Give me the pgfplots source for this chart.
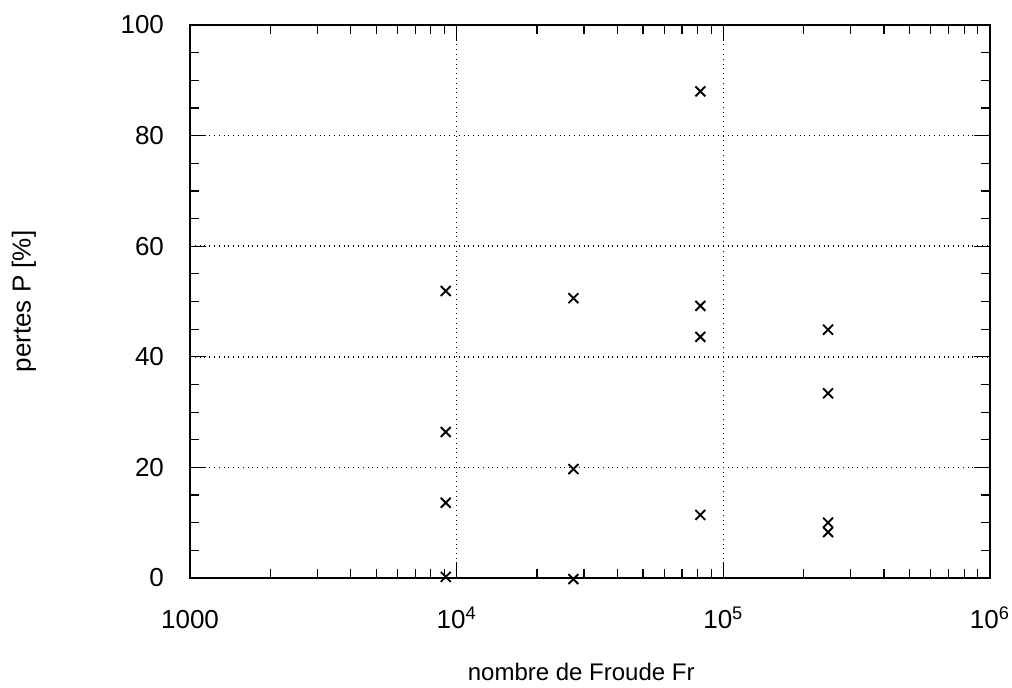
\documentclass[border=0pt]{standalone}
\usepackage{fontspec}
\setmainfont{Liberation Sans}
\usepackage{pgfplots}
\pgfplotsset{compat=1.18}
\pgfplotstableread{
x y
9100 51.9
9100 26.4
9100 13.6
9100 0.2
27400 50.6
27400 19.7
27400 -0.2
82000 88.0
82000 49.2
82000 43.6
82000 11.4
247000 44.9
247000 33.4
247000 10.0
247000 8.3
}\datatable
\begin{document}
\begin{tikzpicture}
\path[use as bounding box] (0,0) rectangle (506pt,343.5pt);
\begin{axis}[
  at={(95pt,54.5pt)}, anchor=south west,
  scale only axis, width=400pt, height=276.5pt,
  xmode=log, xmin=1000, xmax=1000000,
  ymin=0, ymax=100,
  xtick={1000,10000,100000,1000000},
  xticklabels={1000,10\textsuperscript{4},10\textsuperscript{5},10\textsuperscript{6}},
  ytick={0,20,40,60,80,100},
  yticklabels={0,20,40,60,80,100},
  minor ytick={5,10,15,25,30,35,45,50,55,65,70,75,85,90,95},
  tick align=inside, tick pos=both,
  major tick length=8pt, minor tick length=4.5pt,
  every tick/.style={black, line width=0.6pt},
  axis line style={line width=0.7pt},
  grid=major,
  major grid style={black, dotted, line width=0.8pt},
  xticklabel style={font=\fontsize{13}{15}\selectfont, anchor=base, yshift=-25pt},
  yticklabel style={font=\fontsize{13}{15}\selectfont, xshift=-9.5pt},
  xlabel={nombre de Froude Fr},
  ylabel={pertes P [\%]},
  xlabel style={font=\fontsize{12}{14}\selectfont, at={(axis description cs:0.489,0)}, anchor=center, yshift=-46.75pt},
  ylabel style={font=\fontsize{13}{15}\selectfont, at={(axis description cs:-0.2075,0.5)}, anchor=center},
  clip=false,
]
\addplot[only marks, mark=x, mark size=3.5pt, line width=0.95pt, black] table[x=x,y=y] {\datatable};
\end{axis}
\end{tikzpicture}
\end{document}
